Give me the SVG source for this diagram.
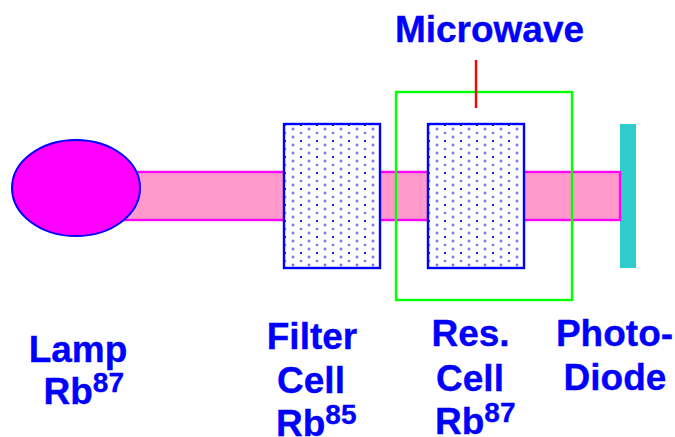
<svg xmlns="http://www.w3.org/2000/svg" width="675" height="437" viewBox="0 0 675 437">
<style>
.cell{fill:url(#dots);stroke:#0000ff;stroke-width:2.4}
.lbl{font-family:"Liberation Sans",Arial,sans-serif;font-weight:700;font-size:37px;fill:#0000ff;stroke:#0000ff;stroke-width:.35;text-anchor:middle}
.rb{text-anchor:start}
.sup{font-size:28px}
.h{fill:#b4b4ff}
.c{fill:#6a6aff}
.d{fill:#1e1eff}
</style>
<defs>
<pattern id="dots" patternUnits="userSpaceOnUse" x="285" y="121" width="16" height="16">
<rect width="16" height="16" fill="#fff"/>
<circle class="h" cx="8" cy="0" r="1.7"/><circle class="c" cx="8" cy="0" r="1.1"/>
<circle class="h" cx="8" cy="8" r="1.7"/><circle class="c" cx="8" cy="8" r="1.1"/>
<circle class="h" cx="8" cy="16" r="1.7"/><circle class="c" cx="8" cy="16" r="1.1"/>
<rect class="d" x="15" y="3" width="2" height="2"/><rect class="d" x="-1" y="3" width="2" height="2"/>
<circle class="h" cx="16" cy="12" r="1.6"/><circle class="c" cx="16" cy="12" r="1"/>
<circle class="h" cx="0" cy="12" r="1.6"/><circle class="c" cx="0" cy="12" r="1"/>
</pattern>
</defs>
<rect width="675" height="437" fill="#fff"/>
<g id="photodiode"><rect x="620" y="124" width="16" height="144" fill="#33cccc"/>
<text class="lbl" x="614.5" y="346">Photo-</text><text class="lbl" x="615" y="390">Diode</text></g>
<g id="beam"><rect x="76" y="172" width="544" height="48" fill="#ff99cc" stroke="#ff00ff" stroke-width="2.4"/></g>
<g id="lamp"><ellipse cx="76" cy="188" rx="64" ry="48" fill="#ff00ff" stroke="#0000ff" stroke-width="2"/>
<text class="lbl" x="78" y="362">Lamp</text><text class="lbl rb" x="43.5" y="404">Rb<tspan class="sup" dy="-12">87</tspan></text></g>
<g id="filter-cell"><rect class="cell" x="284" y="124" width="96" height="144"/>
<text class="lbl" x="312" y="349">Filter</text><text class="lbl" x="311" y="393">Cell</text><text class="lbl rb" x="276" y="436">Rb<tspan class="sup" dy="-12">85</tspan></text></g>
<g id="resonance-cell"><rect class="cell" x="428" y="124" width="96" height="144"/>
<text class="lbl" x="470.5" y="346">Res.</text><text class="lbl" x="470" y="391">Cell</text><text class="lbl rb" x="435" y="434">Rb<tspan class="sup" dy="-12">87</tspan></text></g>
<g id="cavity"><rect x="396" y="92" width="176" height="208" fill="none" stroke="#00ff00" stroke-width="2.4"/></g>
<g id="microwave"><text class="lbl" x="489.5" y="42">Microwave</text></g>
<g id="connectors"><line x1="476" y1="60" x2="476" y2="108" stroke="#ff0000" stroke-width="2.4"/></g>
</svg>
